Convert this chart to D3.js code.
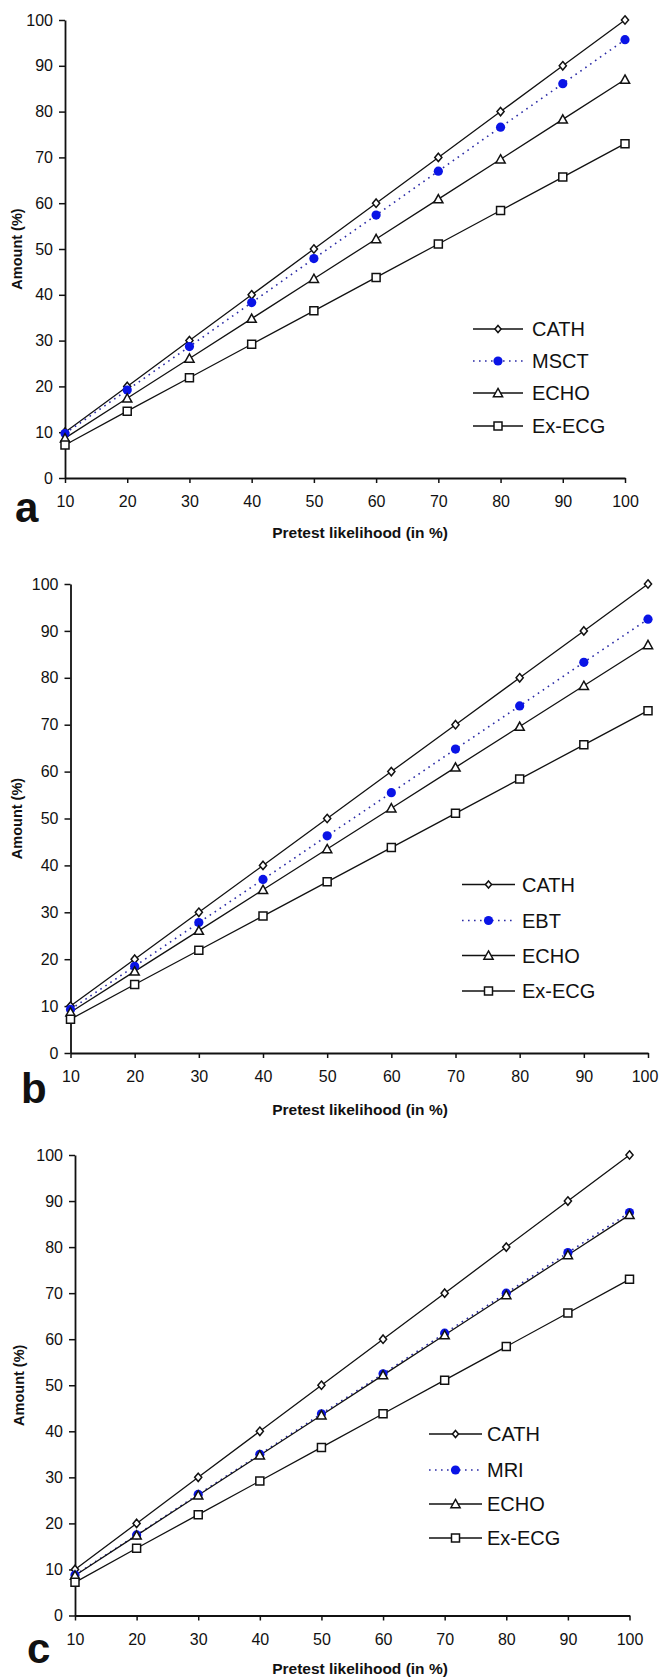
<!DOCTYPE html>
<html>
<head>
<meta charset="utf-8">
<script src="https://cdn.jsdelivr.net/npm/d3@7"></script>
<style>
html,body{margin:0;padding:0;background:#fff;}
svg{display:block;}
</style>
</head>
<body>
<svg id="chart" width="659" height="1677"></svg>
<script>
// ---------- DATA ----------
const pretest = [10, 20, 30, 40, 50, 60, 70, 80, 90, 100];
const cath  = [10, 20, 30, 40, 50, 60, 70, 80, 90, 100];
const msct  = [9.7, 19.2, 28.7, 38.3, 47.9, 57.4, 67.0, 76.6, 86.1, 95.7];
const ebt   = [9.3, 18.5, 27.8, 37.0, 46.3, 55.5, 64.8, 74.0, 83.3, 92.5];
const mri   = [8.8, 17.5, 26.3, 35.0, 43.8, 52.5, 61.3, 70.0, 78.8, 87.5];
const echo  = [8.7, 17.4, 26.1, 34.8, 43.5, 52.2, 60.9, 69.6, 78.3, 87.0];
const exEcg = [7.2, 14.6, 21.9, 29.2, 36.5, 43.8, 51.1, 58.4, 65.7, 73.0];
const xTicks = [10, 20, 30, 40, 50, 60, 70, 80, 90, 100];
const yTicks = [0, 10, 20, 30, 40, 50, 60, 70, 80, 90, 100];
const panelLetters = ["a", "b", "c"];
const panelSeries = [
  [["CATH", cath], ["MSCT", msct], ["ECHO", echo], ["Ex-ECG", exEcg]],
  [["CATH", cath], ["EBT", ebt], ["ECHO", echo], ["Ex-ECG", exEcg]],
  [["CATH", cath], ["MRI", mri], ["ECHO", echo], ["Ex-ECG", exEcg]]
];
const xTitle = "Pretest likelihood (in %)";
const yTitle = "Amount (%)";

// ---------- LAYOUT ----------
const layouts = [
  {x0: 65, x1: 625, yTop: 20, yBot: 478, letterX: 15, letterY: 522, titleY: 532, yTitleX: 17,
   legLine: [473, 523], legText: 532, legRows: [329, 361, 393, 426]},
  {x0: 70.5, x1: 648, yTop: 584, yBot: 1053, letterX: 21, letterY: 1103, titleY: 1109, yTitleX: 17,
   legLine: [462, 515], legText: 522, legRows: [884.5, 920.5, 955.5, 991]},
  {x0: 75, x1: 629.5, yTop: 1155, yBot: 1615.5, letterX: 27, letterY: 1663, titleY: 1668, yTitleX: 19,
   legLine: [429, 482], legText: 487, legRows: [1434, 1470, 1504, 1538]}
];

const FONT = "'Liberation Sans', Arial, Helvetica, sans-serif";
const BLUE = "#0a14e6";
const DOT = "#2b2ba6";
const W = 659;

const svg = d3.select("#chart");

function markerPath(type, s) {
  if (type === 0) { // diamond
    return `M0,${-s}L${s*0.85},0L0,${s}L${-s*0.85},0Z`;
  } else if (type === 2) { // triangle
    const h = s * 1.8;
    return `M0,${-h*0.55}L${s},${h*0.45}L${-s},${h*0.45}Z`;
  } else if (type === 3) { // square
    return `M${-s},${-s}L${s},${-s}L${s},${s}L${-s},${s}Z`;
  }
  return null;
}

function drawMarker(g, type, cx, cy, legend) {
  if (type === 1) {
    g.append("circle").attr("cx", cx).attr("cy", cy).attr("r", 4.6)
      .attr("fill", BLUE).attr("stroke", "none");
  } else {
    const s = type === 0 ? (legend ? 3.6 : 4.2) : (type === 2 ? 4.6 : 4.0);
    g.append("path").attr("d", markerPath(type, s))
      .attr("transform", `translate(${cx},${cy})`)
      .attr("fill", "#fff").attr("stroke", "#111").attr("stroke-width", 1.5);
  }
}

layouts.forEach((L, pi) => {
  const x = d3.scaleLinear().domain([10, 100]).range([L.x0, L.x1]);
  const y = d3.scaleLinear().domain([0, 100]).range([L.yBot, L.yTop]);
  const g = svg.append("g");

  // axes
  const xAxis = d3.axisBottom(x).tickValues(xTicks).tickSize(5).tickPadding(13).tickSizeOuter(0);
  const yAxis = d3.axisLeft(y).tickValues(yTicks).tickSize(6).tickPadding(6).tickSizeOuter(0);
  const gx = g.append("g").attr("transform", `translate(0,${L.yBot})`).call(xAxis);
  const gy = g.append("g").attr("transform", `translate(${L.x0},0)`).call(yAxis);
  [gx, gy].forEach(a => {
    a.select(".domain").attr("stroke", "#111").attr("stroke-width", 1.8);
    a.selectAll(".tick line").attr("stroke", "#111").attr("stroke-width", 1.5);
    a.selectAll(".tick text").attr("fill", "#111").attr("font-family", FONT).attr("font-size", 16);
  });
  // keep a tick label inside the page if it would run past the right edge
  gx.selectAll(".tick text").each(function(d) {
    const bb = this.getBBox();
    const right = x(d) + bb.x + bb.width;
    if (right > W - 1) d3.select(this).attr("x", (W - 1) - right);
  });

  // series lines and markers
  const series = panelSeries[pi];
  series.forEach((s, si) => {
    const vals = s[1];
    const pts = pretest.map((p, i) => [x(p), y(vals[i])]);
    const line = d3.line();
    const path = g.append("path").attr("d", line(pts)).attr("fill", "none");
    if (si === 1) {
      path.attr("stroke", DOT).attr("stroke-width", 1.6).attr("stroke-dasharray", "1.6,4.4");
    } else {
      path.attr("stroke", "#111").attr("stroke-width", 1.3);
    }
  });
  series.forEach((s, si) => {
    const vals = s[1];
    pretest.forEach((p, i) => drawMarker(g, si, x(p), y(vals[i]), false));
  });

  // legend
  series.forEach((s, si) => {
    const ly = L.legRows[si];
    const ln = g.append("line").attr("x1", L.legLine[0]).attr("x2", L.legLine[1])
      .attr("y1", ly).attr("y2", ly);
    if (si === 1) {
      ln.attr("stroke", DOT).attr("stroke-width", 1.6).attr("stroke-dasharray", "1.6,4.4");
    } else {
      ln.attr("stroke", "#111").attr("stroke-width", 1.5);
    }
    drawMarker(g, si, (L.legLine[0] + L.legLine[1]) / 2, ly, true);
    g.append("text").attr("x", L.legText).attr("y", ly).attr("dy", "0.36em")
      .attr("font-family", FONT).attr("font-size", 20).attr("fill", "#111")
      .text(s[0]);
  });

  // axis titles
  g.append("text").attr("x", 360).attr("y", L.titleY).attr("dy", "0.36em")
    .attr("text-anchor", "middle").attr("font-family", FONT).attr("font-weight", "bold")
    .attr("font-size", 15.5).attr("fill", "#111").text(xTitle);
  g.append("text")
    .attr("transform", `translate(${L.yTitleX},${(L.yTop + L.yBot) / 2}) rotate(-90)`)
    .attr("dy", "0.36em").attr("text-anchor", "middle").attr("font-family", FONT)
    .attr("font-weight", "bold").attr("font-size", 14.5).attr("fill", "#111").text(yTitle);

  // panel letter
  g.append("text").attr("x", L.letterX).attr("y", L.letterY)
    .attr("font-family", FONT).attr("font-weight", "bold").attr("font-size", 42)
    .attr("fill", "#111").text(panelLetters[pi]);
});
</script>
</body>
</html>
